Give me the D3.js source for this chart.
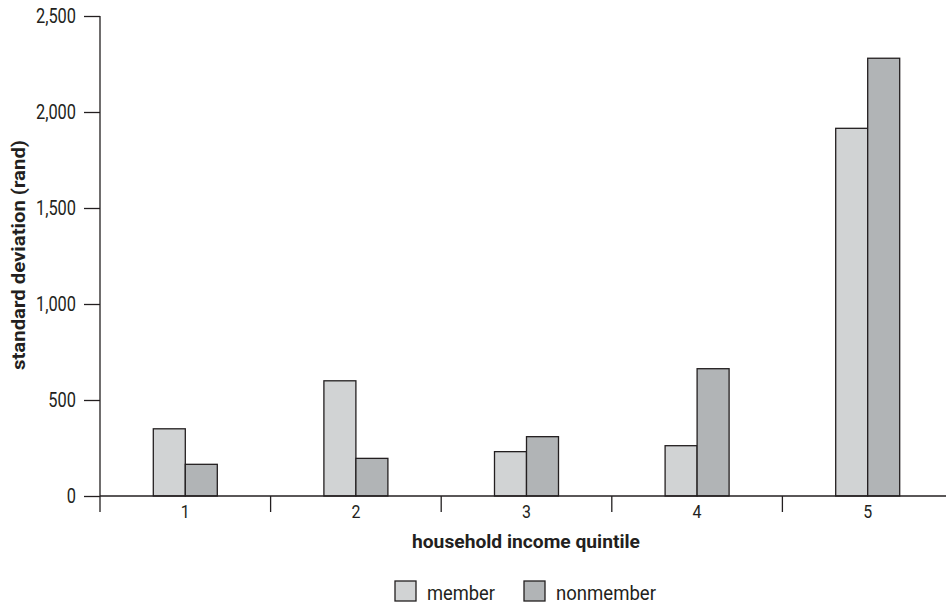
<!DOCTYPE html>
<html><head><meta charset="utf-8">
<script src="https://cdn.jsdelivr.net/npm/d3@7"></script>
<style>
html,body{margin:0;padding:0;background:#fff;}
svg{display:block;}
text{font-family:"Liberation Sans Narrow","Arial Narrow","Roboto",sans-serif;fill:#231f20;}
</style></head>
<body>
<svg id="chart" width="946" height="605"></svg>
<script>
const categories = ["1","2","3","4","5"];
const seriesNames = ["member","nonmember"];
const member = [350, 600, 231, 262, 1915];
const nonmember = [165, 196, 309, 663, 2280];
const yTicks = [0, 500, 1000, 1500, 2000, 2500];
const colors = ["#d1d3d4", "#b1b4b6"];

(function(){
const svg = d3.select("#chart");
const ink = "#231f20";
const mLeft = 100, mRight = 953, mTop = 16, mBottom = 496;
const squeeze = 0.84;
function condense(sel, factor) {
  sel.each(function() {
    const len = this.getComputedTextLength();
    d3.select(this).attr("textLength", len * factor).attr("lengthAdjust", "spacingAndGlyphs");
  });
}

const x = d3.scaleBand().domain(categories).range([mLeft, mRight]).padding(0);
const sub = d3.scaleBand().domain(seriesNames)
  .range([x.bandwidth()/2 - 32, x.bandwidth()/2 + 32]).padding(0);
const y = d3.scaleLinear().domain([0, 2500]).range([mBottom, mTop]);

// bars
const data = categories.map((c, i) => ({c, vals: [member[i], nonmember[i]]}));
const g = svg.append("g");
data.forEach(d => {
  d.vals.forEach((v, j) => {
    g.append("rect")
      .attr("x", x(d.c) + sub(seriesNames[j]))
      .attr("y", y(v))
      .attr("width", sub.bandwidth())
      .attr("height", y(0) - y(v))
      .attr("fill", colors[j])
      .attr("stroke", ink)
      .attr("stroke-width", 1.3);
  });
});

// y axis
const yAxis = svg.append("g").attr("transform", `translate(${mLeft},0)`)
  .call(d3.axisLeft(y).tickValues(yTicks).tickSize(16).tickPadding(8)
    .tickFormat(d3.format(",")));
yAxis.select(".domain").remove();
yAxis.selectAll("line").attr("stroke", ink).attr("stroke-width", 1.3);
yAxis.selectAll("text").style("font-size", "19.5px").attr("fill", ink).call(condense, squeeze);
svg.append("line").attr("x1", mLeft).attr("x2", mLeft).attr("y1", mTop).attr("y2", mBottom + 16)
  .attr("stroke", ink).attr("stroke-width", 1.3);

// x axis
svg.append("line").attr("x1", mLeft).attr("x2", 946).attr("y1", mBottom).attr("y2", mBottom)
  .attr("stroke", ink).attr("stroke-width", 1.3);
categories.slice(1).forEach(c => {
  svg.append("line").attr("x1", x(c)).attr("x2", x(c)).attr("y1", mBottom).attr("y2", mBottom + 16)
    .attr("stroke", ink).attr("stroke-width", 1.3);
});
const xAxis = svg.append("g").attr("transform", `translate(0,${mBottom})`)
  .call(d3.axisBottom(x).tickSize(0).tickPadding(9));
xAxis.select(".domain").remove();
xAxis.selectAll("text").style("font-size", "19px").attr("fill", ink).call(condense, squeeze);

// axis titles
svg.append("text").attr("x", 526).attr("y", 548)
  .attr("text-anchor", "middle").style("font-size", "19px").style("font-weight", "bold")
  .attr("textLength", 228).attr("lengthAdjust", "spacingAndGlyphs")
  .text("household income quintile");
svg.append("text").attr("transform", "translate(25,255) rotate(-90)")
  .attr("text-anchor", "middle").style("font-size", "19px").style("font-weight", "bold")
  .attr("textLength", 230).attr("lengthAdjust", "spacingAndGlyphs")
  .text("standard deviation (rand)");

// legend
const legX = [395, 524];
const legW = [68, 100];
seriesNames.forEach((s, j) => {
  svg.append("rect").attr("x", legX[j]).attr("y", 581).attr("width", 21).attr("height", 20)
    .attr("fill", colors[j]).attr("stroke", ink).attr("stroke-width", 1.3);
  svg.append("text").attr("x", legX[j] + 32).attr("y", 600)
    .style("font-size", "19.5px")
    .attr("textLength", legW[j]).attr("lengthAdjust", "spacingAndGlyphs")
    .text(s);
});
})();
</script>
</body></html>
